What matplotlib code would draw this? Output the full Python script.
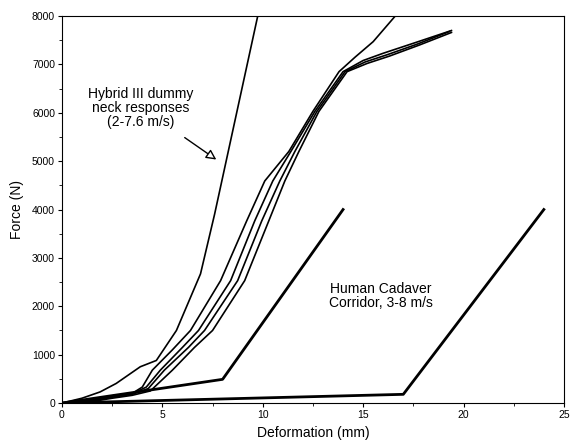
import matplotlib
matplotlib.use("Agg")
import matplotlib.pyplot as plt
from matplotlib.ticker import MultipleLocator

plt.rcParams['font.family'] = ['Liberation Sans', 'DejaVu Sans']

# Hybrid III dummy neck responses (force N vs deformation mm)
d1_x = [0, 1.0, 1.9, 2.7, 3.9, 4.7, 5.7, 6.9, 7.6, 9.75]
d1_y = [0, 100, 230, 405, 750, 880, 1500, 2670, 3900, 8000]

d2_x = [0, 1.5, 2.5, 3.5, 4.0, 4.5, 5.5, 6.4, 7.9, 9.2, 10.1, 11.3, 12.5, 13.8, 14.6, 15.5, 16.6]
d2_y = [0, 60, 150, 200, 330, 680, 1100, 1500, 2530, 3765, 4590, 5200, 6030, 6850, 7150, 7470, 8000]

d3_x = [0, 1.5, 2.5, 3.5, 4.2, 4.9, 6.0, 6.8, 8.4, 9.6, 10.5, 11.4, 12.6, 14.0, 15.0, 16.0, 17.6, 19.4]
d3_y = [0, 50, 140, 190, 330, 680, 1150, 1500, 2530, 3765, 4590, 5200, 6030, 6850, 7080, 7230, 7450, 7700]

d4_x = [0, 1.5, 2.5, 3.5, 4.3, 5.1, 6.3, 7.1, 8.75, 9.95, 10.85, 11.6, 12.7, 14.1, 15.1, 16.2, 17.7, 19.3]
d4_y = [0, 40, 120, 180, 300, 680, 1150, 1500, 2530, 3765, 4590, 5200, 6030, 6850, 7050, 7200, 7420, 7680]

d5_x = [0, 1.5, 2.5, 3.5, 4.4, 5.5, 6.6, 7.5, 9.1, 10.3, 11.1, 11.8, 12.8, 14.2, 15.2, 16.3, 17.8, 19.4]
d5_y = [0, 30, 100, 160, 250, 680, 1150, 1500, 2530, 3765, 4590, 5200, 6030, 6850, 7020, 7170, 7400, 7660]

# Human cadaver corridor
cu_x = [0, 8, 14]
cu_y = [0, 490, 4000]
cl_x = [0, 17, 24]
cl_y = [0, 180, 4000]

fig = plt.figure(figsize=(5.76, 4.4), dpi=100)
ax = fig.add_axes([0.1076, 0.084, 0.8714, 0.8796])

for xs, ys in [(d1_x, d1_y), (d2_x, d2_y), (d3_x, d3_y), (d4_x, d4_y), (d5_x, d5_y)]:
    ax.plot(xs, ys, color='black', lw=1.2, solid_joinstyle='round')
ax.plot(cu_x, cu_y, color='black', lw=2.0)
ax.plot(cl_x, cl_y, color='black', lw=2.0)

ax.set_xlim(0, 25)
ax.set_ylim(0, 8000)
ax.xaxis.set_major_locator(MultipleLocator(5))
ax.xaxis.set_minor_locator(MultipleLocator(2.5))
ax.yaxis.set_major_locator(MultipleLocator(1000))
ax.yaxis.set_minor_locator(MultipleLocator(500))
ax.tick_params(which='major', direction='out', length=3, width=0.8, labelsize=7.5, pad=2)
ax.tick_params(which='minor', direction='out', length=2, width=0.6)
for s in ax.spines.values():
    s.set_linewidth(0.8)

ax.set_xlabel('Deformation (mm)', fontsize=10, labelpad=4)
ax.set_ylabel('Force (N)', fontsize=10, labelpad=6)

ax.text(3.9, 6100, 'Hybrid III dummy\nneck responses\n(2-7.6 m/s)', ha='center', va='center',
        fontsize=10, linespacing=1.0)
ax.annotate('', xy=(7.8, 5000), xytext=(6.0, 5520),
            arrowprops=dict(arrowstyle='-|>,head_length=0.6,head_width=0.3', fc='white', ec='black', lw=1.0))
ax.text(15.9, 2220, 'Human Cadaver\nCorridor, 3-8 m/s', ha='center', va='center',
        fontsize=10, linespacing=1.0)

fig.savefig('out.png', dpi=100)
